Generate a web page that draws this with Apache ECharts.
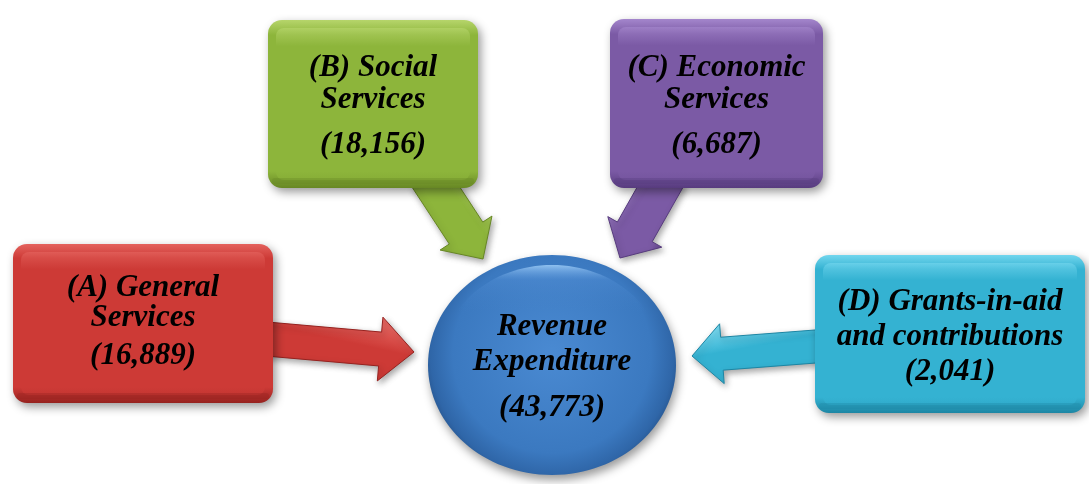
<!DOCTYPE html>
<html>
<head>
<meta charset="utf-8">
<script src="https://cdn.jsdelivr.net/npm/echarts@6/dist/echarts.min.js"></script>
<style>
html,body{margin:0;padding:0;background:#fff;}
#chart{width:1089px;height:484px;}
</style>
</head>
<body>
<div id="chart"></div>
<script>
// ---- data ----
const categories = ['(A) General Services', '(B) Social Services', '(C) Economic Services', '(D) Grants-in-aid and contributions'];
const categoryLines = [['(A) General', 'Services'], ['(B) Social', 'Services'], ['(C) Economic', 'Services'], ['(D) Grants-in-aid', 'and contributions']];
const values = [16889, 18156, 6687, 2041];
const totalLines = ['Revenue', 'Expenditure'];
const totalValue = 43773;

// ---- layout & style (not data) ----
const boxLayout = [
  {x: 13, y: 244, w: 260, h: 159, lineDy: [-36, -6, 32], arrow: {s: [255, 338], t: [414, 352], sw: 34, hw: 64, hl: 34}},
  {x: 268, y: 20, w: 210, h: 168, lineDy: [-36, -4, 41], arrow: {s: [428, 175], t: [483, 259], sw: 40, hw: 62, hl: 31}},
  {x: 610, y: 19, w: 213, h: 169, lineDy: [-36, -4, 41], arrow: {s: [667, 175], t: [620, 258], sw: 40, hw: 62, hl: 30}},
  {x: 815, y: 255, w: 270, h: 158, lineDy: [-32, 3, 38], arrow: {s: [835, 345], t: [692, 356], sw: 33, hw: 60, hl: 30}}
];
const palette = [
  {base: '#cd3a36', light: '#e4625d', dark: '#96221f'},
  {base: '#8db53b', light: '#b6d56b', dark: '#678724'},
  {base: '#7b5aa5', light: '#a486cc', dark: '#573b7e'},
  {base: '#34b2d2', light: '#72d6ee', dark: '#1d86a4'}
];
const circleLayout = {cx: 552, cy: 365, rx: 124, ry: 110, lineDy: [-38, -3, 43]};
const FONT_FAMILY = 'Liberation Serif';
const FONT_SIZE = 31;

function fmt(v) { return '(' + v.toLocaleString('en-US') + ')'; }

function textEl(str, x, y) {
  return {
    type: 'text', z: 100,
    x: x, y: y,
    style: {text: str,
      fontFamily: FONT_FAMILY, fontSize: FONT_SIZE, fontWeight: 'bold', fontStyle: 'italic',
      fill: '#000',
      align: 'center', verticalAlign: 'middle', textAlign: 'center', textVerticalAlign: 'middle'}
  };
}

function arrowEl(a, col) {
  const dx = a.t[0] - a.s[0], dy = a.t[1] - a.s[1];
  const L = Math.sqrt(dx * dx + dy * dy);
  const ux = dx / L, uy = dy / L;
  let nx = -uy, ny = ux;
  if (ny > 0 || (ny === 0 && nx > 0)) { nx = -nx; ny = -ny; }
  const bx = a.t[0] - ux * a.hl, by = a.t[1] - uy * a.hl;
  const p = (px, py, k) => [px + nx * k, py + ny * k];
  const pts = [
    p(a.s[0], a.s[1], a.sw / 2), p(bx, by, a.sw / 2), p(bx, by, a.hw / 2), a.t.slice(),
    p(bx, by, -a.hw / 2), p(bx, by, -a.sw / 2), p(a.s[0], a.s[1], -a.sw / 2)
  ];
  return {
    type: 'polygon',
    shape: {points: pts},
    style: {
      fill: new echarts.graphic.LinearGradient(0.5 + nx * 0.5, 0.5 + ny * 0.5, 0.5 - nx * 0.5, 0.5 - ny * 0.5, [
        {offset: 0, color: col.light}, {offset: 0.35, color: col.base}, {offset: 0.8, color: col.base}, {offset: 1, color: col.dark}
      ]),
      stroke: col.dark, lineWidth: 1,
      shadowBlur: 6, shadowOffsetX: 2, shadowOffsetY: 3, shadowColor: 'rgba(0,0,0,0.35)'
    }
  };
}

// text labels built from the data arrays
const labelEls = [];
values.forEach((v, i) => {
  const b = boxLayout[i];
  const cx = b.x + b.w / 2, cy = b.y + b.h / 2;
  labelEls.push(textEl(categoryLines[i][0], cx, cy + b.lineDy[0]));
  labelEls.push(textEl(categoryLines[i][1], cx, cy + b.lineDy[1]));
  labelEls.push(textEl(fmt(v), cx, cy + b.lineDy[2]));
});
labelEls.push(textEl(totalLines[0], circleLayout.cx, circleLayout.cy + circleLayout.lineDy[0]));
labelEls.push(textEl(totalLines[1], circleLayout.cx, circleLayout.cy + circleLayout.lineDy[1]));
labelEls.push(textEl(fmt(totalValue), circleLayout.cx, circleLayout.cy + circleLayout.lineDy[2]));

const chart = echarts.init(document.getElementById('chart'), null, {renderer: 'canvas'});

chart.setOption({
  backgroundColor: '#ffffff',
  animation: false,
  graphic: {elements: labelEls},
  series: [
    {
      type: 'custom',
      coordinateSystem: 'none',
      z: 2,
      data: values.map((v, i) => ({name: categories[i], value: v})),
      renderItem: function (params, api) {
        const i = params.dataIndex;
        const b = boxLayout[i], col = palette[i];
        return {
          type: 'group',
          children: [
            arrowEl(b.arrow, col),
            {
              type: 'rect',
              shape: {x: b.x, y: b.y, width: b.w, height: b.h, r: 14},
              style: {
                fill: new echarts.graphic.LinearGradient(0, 0, 0, 1, [
                  {offset: 0, color: col.light}, {offset: 0.09, color: col.base},
                  {offset: 0.9, color: col.base}, {offset: 1, color: col.dark}
                ]),
                shadowBlur: 10, shadowOffsetX: 3, shadowOffsetY: 4, shadowColor: 'rgba(0,0,0,0.4)'
              }
            },
            {
              type: 'rect',
              shape: {x: b.x + 8, y: b.y + 8, width: b.w - 16, height: b.h - 16, r: 8},
              style: {
                fill: new echarts.graphic.LinearGradient(0, 0, 0, 1, [
                  {offset: 0, color: col.light}, {offset: 0.12, color: col.base},
                  {offset: 1, color: col.base}
                ]),
                opacity: 0.7
              }
            },
            {
              type: 'rect',
              shape: {x: b.x + 4, y: b.y + b.h - 10, width: b.w - 8, height: 6, r: 3},
              style: {fill: col.dark, opacity: 0.35}
            }
          ]
        };
      }
    },
    {
      type: 'custom',
      coordinateSystem: 'none',
      z: 2,
      data: [{name: totalLines.join(' '), value: totalValue}],
      renderItem: function (params, api) {
        const c = circleLayout;
        return {
          type: 'group',
          children: [
            {
              type: 'ellipse',
              shape: {cx: c.cx, cy: c.cy, rx: c.rx, ry: c.ry},
              style: {
                fill: new echarts.graphic.RadialGradient(0.5, 0.45, 0.6, [
                  {offset: 0, color: '#4a8ad2'}, {offset: 0.75, color: '#3b79c0'},
                  {offset: 0.92, color: '#2f66a8'}, {offset: 1, color: '#25528a'}
                ]),
                shadowBlur: 10, shadowOffsetX: 2, shadowOffsetY: 5, shadowColor: 'rgba(0,0,0,0.4)'
              }
            },
            {
              type: 'ellipse',
              shape: {cx: c.cx, cy: c.cy - 6, rx: c.rx - 14, ry: c.ry - 16},
              style: {
                fill: new echarts.graphic.LinearGradient(0, 0, 0, 1, [
                  {offset: 0, color: 'rgba(170,215,255,0.75)'}, {offset: 0.08, color: 'rgba(90,150,220,0.3)'},
                  {offset: 0.25, color: 'rgba(70,130,200,0)'}, {offset: 1, color: 'rgba(70,130,200,0)'}
                ])
              }
            }
          ]
        };
      }
    }
  ]
});
</script>
</body>
</html>
